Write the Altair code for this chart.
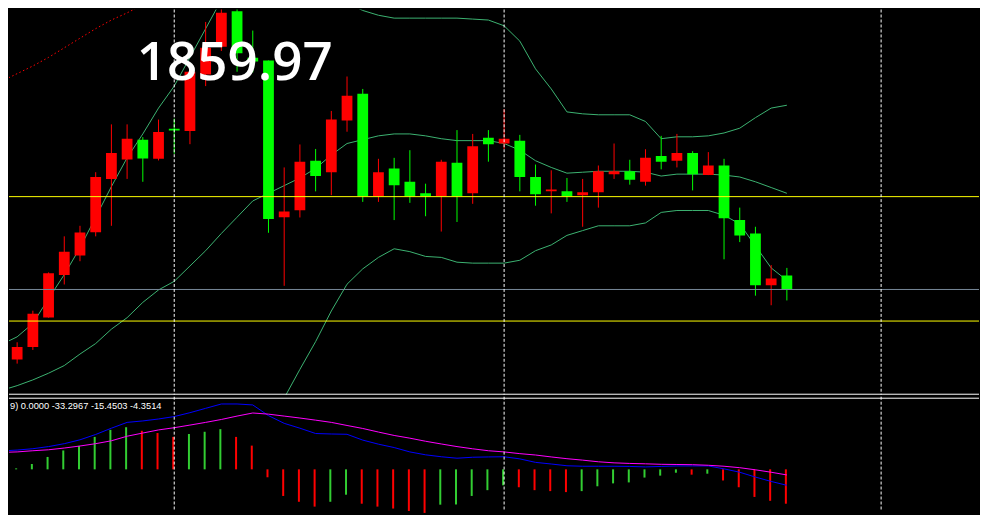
import altair as alt
import pandas as pd

# ---------------- data ----------------
candle_index = list(range(50))
opens = [1634.3, 1647.3, 1678.3, 1722.7, 1743, 1767.3, 1823, 1843.3, 1864, 1844,
         1875.5, 1873, 1932, 1961, 1998.3, 1949.7, 1946.7, 1783, 1790.3, 1842,
         1830, 1884, 1912, 1805, 1834, 1820, 1808, 1805, 1840, 1808,
         1866, 1860, 1863, 1825, 1810, 1810, 1806, 1809, 1828, 1831,
         1820, 1847, 1842, 1850, 1827, 1837, 1780, 1766, 1712, 1722]
closes = [1647.3, 1682, 1724.3, 1747, 1767, 1825, 1850, 1865, 1844.3, 1872,
          1873.5, 1935, 1960, 1996.7, 1954.3, 1945.7, 1781, 1789, 1841, 1826,
          1885, 1910, 1805, 1830, 1816.3, 1805, 1805, 1841, 1805, 1857,
          1859.3, 1865, 1825, 1807, 1812, 1805, 1809, 1831, 1831, 1822,
          1845, 1841, 1850, 1828, 1837, 1782, 1764, 1712, 1719, 1707]
highs = [1652.3, 1685.3, 1725.3, 1763, 1774, 1830, 1880, 1880, 1866.7, 1885,
         1886, 1938, 1987, 2005, 2006, 1978, 1946.7, 1835, 1859, 1854.3,
         1894, 1930, 1917, 1844, 1845, 1853, 1818, 1843, 1874, 1870,
         1874, 1896, 1869, 1838, 1832, 1824, 1823, 1837, 1860, 1843,
         1854, 1868, 1870, 1852, 1851, 1844, 1793, 1773, 1733, 1730]
lows = [1630, 1644.3, 1678, 1712.7, 1737, 1763, 1774, 1823, 1820, 1842.3,
        1849.3, 1859.3, 1920, 1956.7, 1935, 1934.3, 1766.7, 1711.3, 1782.7, 1810,
        1806, 1872.3, 1799, 1799, 1780, 1798, 1784, 1768, 1778, 1797,
        1841, 1854.3, 1810, 1795, 1787, 1799, 1773, 1793, 1823, 1817,
        1816, 1833, 1835, 1811, 1827, 1739, 1757, 1701, 1691, 1696]

band_index = list(range(-1, 50))
band_upper = [1650, 1658, 1672, 1698, 1723, 1751, 1783, 1815, 1845, 1870, 1897,
              1920, 1950, 1980, 2010, 2035, 2045, 2050, 2038, 2024, 2015,
              2011, 2007, 1999, 1994, 1991, 1991, 1991, 1991, 1991, 1990,
              1989, 1983, 1967, 1938, 1917, 1893, 1891, 1890, 1890, 1890,
              1883, 1865, 1867, 1867, 1868, 1871, 1876, 1887, 1897, 1900]
band_middle = [1602, 1607, 1613, 1620, 1628, 1640, 1651, 1666, 1678, 1694, 1707,
               1716, 1732, 1748, 1766, 1783, 1800, 1808, 1816, 1824, 1834,
               1848, 1860, 1864, 1868, 1870, 1870, 1868, 1865, 1863, 1863,
               1863, 1860, 1853, 1842, 1835, 1829, 1830, 1831, 1831, 1831,
               1830, 1826, 1828, 1828, 1828, 1827, 1825, 1820, 1814, 1808]
band_lower = [1554, 1556, 1554, 1542, 1533, 1529, 1519, 1517, 1511, 1518, 1519,
              1512, 1514, 1516, 1522, 1531, 1555, 1566, 1594, 1624, 1653,
              1685, 1713, 1729, 1741, 1750, 1747, 1742, 1741, 1736, 1735,
              1735, 1735, 1738, 1748, 1754, 1764, 1769, 1774, 1774, 1774,
              1777, 1788, 1790, 1790, 1790, 1785, 1776, 1753, 1730, 1717]

trend_index = list(range(-1, 9))
trend_values = [1925, 1933, 1941, 1950, 1960, 1970, 1980, 1989, 1996.5, 2005]

level_prices = [1805, 1708, 1675]
level_colors = ["#ffff00", "#778899", "#ffff00"]

marker_index = [10, 31, 55]

price_label = "1859.97"
indicator_label = "9) 0.0000 -33.2967 -15.4503 -4.3514"

hist_values = [1, 5.5, 12.8, 19.5, 24.2, 33.5, 40.8, 43.5, 39.8, 37.5,
               33.5, 36.5, 38.8, 41.5, 33.5, 24.5, -8.2, -27.5, -33.5, -38.5,
               -33.5, -26.2, -35.5, -38.5, -40.5, -43, -45, -36.5, -36.3, -27.5,
               -21.5, -16.5, -18.5, -21.5, -22.5, -23.5, -22.5, -17.5, -14.5, -13.5,
               -8.5, -6.5, -3.5, -5.5, -4.5, -11.5, -18.5, -28.5, -32.5, -35.5]
line_index = list(range(-1, 50))
macd_main = [19, 19.9, 21.3, 23.5, 26.5, 30.5, 36, 42.5, 48.5, 50, 52,
             54.5, 58.5, 63, 67.5, 67.5, 66.5, 55.5, 47.5, 42.5, 37,
             36.5, 36.2, 30.2, 26, 22.5, 18, 15, 13, 11.5, 12.5,
             12.8, 13, 10.8, 7.2, 5.5, 3.7, 3.2, 3.2, 3.2, 3,
             2.5, 3, 3.5, 3.5, 3.5, 0.5, -3, -8, -12.5, -16.5]
macd_signal = [17.5, 18, 19.2, 20.2, 22, 24.1, 26.5, 29.5, 34.2, 37.5, 40.7,
               43, 45.7, 48.5, 51.5, 55, 58.2, 57, 55, 53, 50.8,
               48.5, 45.3, 42.2, 38.5, 35, 32.2, 29, 26.2, 23.5, 21.2,
               19.2, 18, 16.2, 14.8, 12.8, 11, 9.5, 7.8, 6.7, 6.1,
               5.7, 5.2, 5, 4.8, 4.2, 3.2, 1.7, -0.5, -3, -5.8]

# ---------------- frames ----------------
W = 972
H_MAIN = 386
H_IND = 114

candles = pd.DataFrame({"k": candle_index, "open": opens, "close": closes,
                        "high": highs, "low": lows})
candles["dir"] = ["up" if c > o else "down" for o, c in zip(opens, closes)]

bands = pd.DataFrame({"k": band_index, "upper": band_upper,
                      "middle": band_middle, "lower": band_lower})
bands_long = bands.melt("k", var_name="band", value_name="price")
trend = pd.DataFrame({"k": trend_index, "price": trend_values})
levels = pd.DataFrame({"price": level_prices, "color": level_colors})
markers = pd.DataFrame({"k": marker_index})

hist_dir = []
for i, v in enumerate(hist_values):
    hist_dir.append("rise" if i == 0 or v > hist_values[i - 1] else "fall")
hist = pd.DataFrame({"k": candle_index, "value": hist_values, "hdir": hist_dir})
lines = pd.DataFrame({"k": line_index, "main": macd_main, "signal": macd_signal})

xscale = alt.Scale(domain=[-8.3 / 16, (988 - 8.3) / 16], nice=False, zero=False,
                   padding=0)
X = alt.X("k:Q", scale=xscale, axis=None)
yscale = alt.Scale(domain=[1597.5, 2000], nice=False, zero=False)
iscale = alt.Scale(domain=[-42.5, 75], nice=False, zero=False)

candle_colors = alt.Scale(domain=["up", "down"], range=["#ff0000", "#00ff00"])
hist_colors = alt.Scale(domain=["rise", "fall"], range=["#32cd32", "#ff0000"])

# ---------------- main panel ----------------
band_lines = alt.Chart(bands_long).mark_line(color="#3cb371", strokeWidth=1, clip=True).encode(
    x=X, y=alt.Y("price:Q", scale=yscale, axis=None), detail="band:N")

trend_line = alt.Chart(trend).mark_line(color="#ff0000", strokeWidth=1,
                                        strokeDash=[1.5, 2.5], clip=True).encode(
    x=X, y=alt.Y("price:Q", scale=yscale, axis=None))

wicks = alt.Chart(candles).mark_rule(strokeWidth=1, clip=True).encode(
    x=X, y=alt.Y("low:Q", scale=yscale, axis=None), y2="high:Q",
    color=alt.Color("dir:N", scale=candle_colors, legend=None))

bodies = alt.Chart(candles).mark_bar(size=10.8, clip=True).encode(
    x=X, y=alt.Y("open:Q", scale=yscale, axis=None), y2="close:Q",
    color=alt.Color("dir:N", scale=candle_colors, legend=None))

hlines = alt.Chart(levels).mark_rule(strokeWidth=1, yOffset=0.5).encode(
    y=alt.Y("price:Q", scale=yscale, axis=None),
    color=alt.Color("color:N", scale=None))

vlines_main = alt.Chart(markers).mark_rule(color="white", strokeWidth=1,
                                           strokeDash=[3, 2]).encode(x=X)

label = alt.Chart(pd.DataFrame({"t": [price_label]})).mark_text(
    font="Open Sans", fontSize=53, fontWeight=600, color="white", align="left",
    baseline="alphabetic").encode(x=alt.value(128), y=alt.value(71), text="t:N")

bottom_border = alt.Chart(pd.DataFrame({"a": [0]})).mark_rule(
    color="white", strokeWidth=1).encode(
    x=alt.value(0), x2=alt.value(W), y=alt.value(H_MAIN - 0.5))

main = alt.layer(band_lines, trend_line, wicks, bodies, hlines, vlines_main,
                 label, bottom_border).properties(width=W, height=H_MAIN)

# ---------------- indicator panel ----------------
histo = alt.Chart(hist).mark_rule(strokeWidth=2, xOffset=-1).encode(
    x=X, y=alt.Y("value:Q", scale=iscale, axis=None), y2=alt.datum(0),
    color=alt.Color("hdir:N", scale=hist_colors, legend=None))

main_line = alt.Chart(lines).mark_line(color="#0000ff", strokeWidth=1, clip=True).encode(
    x=X, y=alt.Y("main:Q", scale=iscale, axis=None))
signal_line = alt.Chart(lines).mark_line(color="#ff00ff", strokeWidth=1, clip=True).encode(
    x=X, y=alt.Y("signal:Q", scale=iscale, axis=None))

vlines_ind = alt.Chart(markers).mark_rule(color="white", strokeWidth=1,
                                          strokeDash=[3, 2]).encode(x=X)

top_border = alt.Chart(pd.DataFrame({"a": [0]})).mark_rule(
    color="white", strokeWidth=1).encode(
    x=alt.value(0), x2=alt.value(W), y=alt.value(1.5))

ind_text = alt.Chart(pd.DataFrame({"t": [indicator_label]})).mark_text(
    font="Liberation Sans", fontSize=9.3, color="white", align="left",
    baseline="middle").encode(x=alt.value(1), y=alt.value(9.5), text="t:N")

indicator = alt.layer(histo, main_line, signal_line, vlines_ind, top_border,
                      ind_text).properties(width=W, height=H_IND)

chart = alt.vconcat(main, indicator, spacing=0).resolve_scale(
    color="independent"
).properties(background="black", padding=0).configure_view(stroke=None)

chart.save("out.html", embed_options={"renderer": "svg", "actions": False})
